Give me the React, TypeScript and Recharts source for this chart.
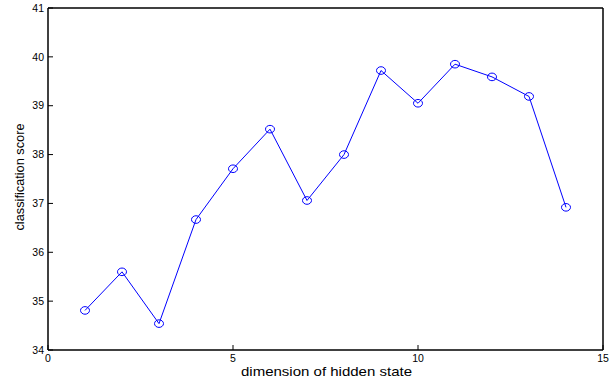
import React from "react";
import { LineChart, Line, XAxis, YAxis } from "recharts";

const dims = [1, 2, 3, 4, 5, 6, 7, 8, 9, 10, 11, 12, 13, 14];
const scores = [34.81, 35.6, 34.54, 36.67, 37.71, 38.52, 37.06, 38.0, 39.72, 39.05, 39.85, 39.59, 39.19, 36.92];
const xTicks = [0, 5, 10, 15];
const yTicks = [34, 35, 36, 37, 38, 39, 40, 41];

const data = dims.map((d, i) => ({ dim: d, score: scores[i] }));

const FONT = "Liberation Sans, Arial, Helvetica, sans-serif";

const YLabel = (props: any) => {
  const vb = props.viewBox || {};
  const x = 20;
  const y = vb.y + vb.height / 2 - 2;
  return (
    <text
      x={x}
      y={y}
      transform={`rotate(-90, ${x}, ${y})`}
      textAnchor="middle"
      dominantBaseline="central"
      fontSize={12.5}
      fontFamily={FONT}
      fill="#000"
      textLength={107}
      lengthAdjust="spacingAndGlyphs"
    >
      classification score
    </text>
  );
};

const XLabel = (props: any) => {
  const vb = props.viewBox || {};
  const x = vb.x + vb.width / 2 + 1;
  const y = 375.5;
  return (
    <text
      x={x}
      y={y}
      textAnchor="middle"
      fontSize={13}
      fontFamily={FONT}
      fill="#000"
      textLength={171}
      lengthAdjust="spacingAndGlyphs"
    >
      dimension of hidden state
    </text>
  );
};

const Circle = (props: any) => {
  const { cx, cy } = props;
  if (cx == null || cy == null) return null;
  return <ellipse cx={cx} cy={cy} rx={4.5} ry={3.8} fill="none" stroke="#0000ff" strokeWidth={1} />;
};

export default function App() {
  return (
    <div style={{ position: "absolute", left: 0, top: 0, width: 615, height: 379, background: "#fff" }}>
      <LineChart width={615} height={379} data={data} margin={{ top: 7, right: 11, bottom: 0, left: 0 }}>
        <XAxis
          xAxisId="b"
          dataKey="dim"
          type="number"
          domain={[0, 15]}
          ticks={xTicks}
          allowDataOverflow
          height={29}
          tickSize={-5}
          tickMargin={10}
          axisLine={{ stroke: "#000", strokeWidth: 1.5 }}
          tickLine={{ stroke: "#000" }}
          tick={{ fontSize: 10.5, fill: "#000", fontFamily: FONT }}
          label={<XLabel />}
        />
        <XAxis
          xAxisId="t"
          dataKey="dim"
          type="number"
          orientation="top"
          domain={[0, 15]}
          ticks={xTicks}
          allowDataOverflow
          height={1}
          tickSize={-5}
          tick={false}
          axisLine={{ stroke: "#000", strokeWidth: 1.5 }}
          tickLine={{ stroke: "#000" }}
        />
        <YAxis
          yAxisId="l"
          type="number"
          domain={[34, 41]}
          ticks={yTicks}
          allowDataOverflow
          width={48}
          tickSize={-5}
          tickMargin={9}
          axisLine={{ stroke: "#000", strokeWidth: 1.5 }}
          tickLine={{ stroke: "#000" }}
          tick={{ fontSize: 10.5, fill: "#000", fontFamily: FONT }}
          label={<YLabel />}
        />
        <YAxis
          yAxisId="r"
          orientation="right"
          type="number"
          domain={[34, 41]}
          ticks={yTicks}
          allowDataOverflow
          width={1}
          tickSize={-5}
          tick={false}
          axisLine={{ stroke: "#000", strokeWidth: 1.5 }}
          tickLine={{ stroke: "#000" }}
        />
        <Line
          xAxisId="t"
          yAxisId="r"
          type="linear"
          dataKey="score"
          stroke="none"
          dot={false}
          activeDot={false}
          legendType="none"
          isAnimationActive={false}
        />
        <Line
          xAxisId="b"
          yAxisId="l"
          type="linear"
          dataKey="score"
          stroke="#0000ff"
          strokeWidth={1}
          dot={<Circle />}
          activeDot={false}
          isAnimationActive={false}
        />
      </LineChart>
    </div>
  );
}
